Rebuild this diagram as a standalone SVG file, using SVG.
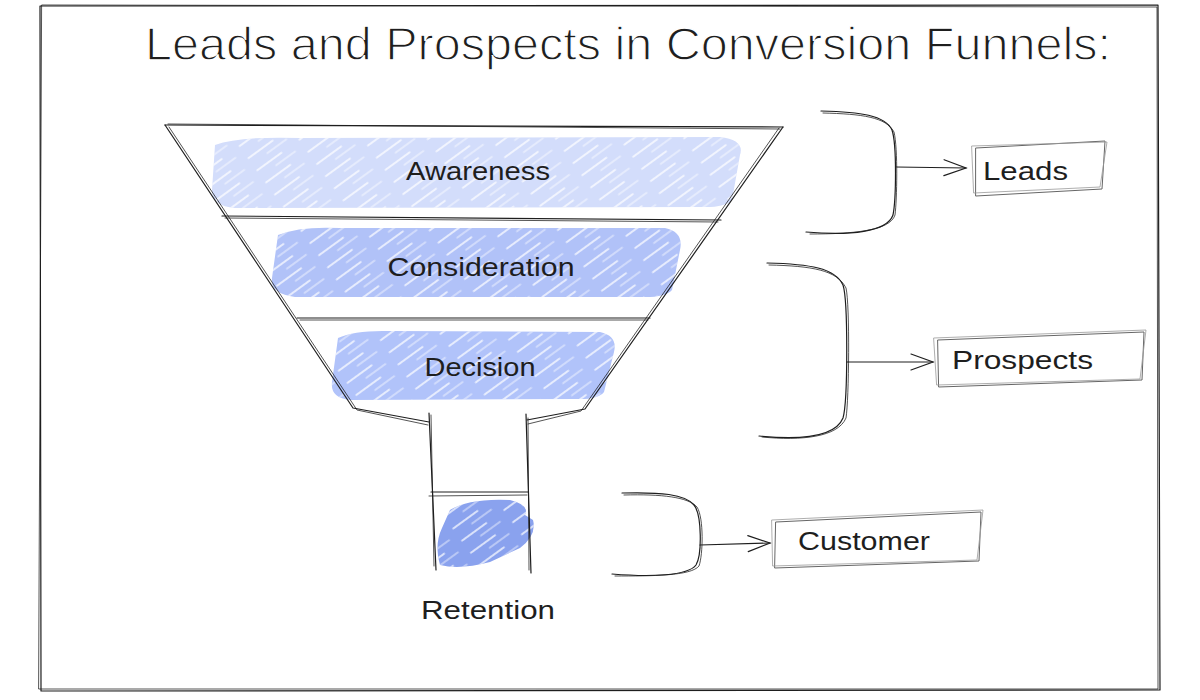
<svg xmlns="http://www.w3.org/2000/svg" width="1200" height="700" viewBox="0 0 1200 700">
  <defs>
    <style>
      .ink{fill:none;stroke:#1e1e1e;stroke-width:1.2;stroke-linecap:round;stroke-linejoin:round}
      .ink2{fill:none;stroke:#1e1e1e;stroke-width:0.9;stroke-linecap:round;stroke-linejoin:round;opacity:0.85}
      .box{fill:none;stroke:#666;stroke-width:1;stroke-linecap:round}
      .box2{fill:none;stroke:#999;stroke-width:0.8;stroke-linecap:round}
      .lbl{font-family:"Liberation Sans","DejaVu Sans",sans-serif;fill:#1e1e1e;font-size:26px}
      .title{font-family:"Liberation Sans","DejaVu Sans",sans-serif;fill:#1e1e1e;font-size:46px;font-weight:normal;stroke:#ffffff;stroke-width:1.3;paint-order:fill}
      .streak{fill:url(#streaks)}
    </style>
    <pattern id="streaks" patternUnits="userSpaceOnUse" width="52" height="15" patternTransform="rotate(-36)">
      <line x1="4" y1="4" x2="34" y2="4" stroke="#fff" stroke-width="1.6" stroke-linecap="round" opacity="0.9"/>
      <line x1="22" y1="11" x2="46" y2="11" stroke="#fff" stroke-width="1.2" stroke-linecap="round" opacity="0.8"/>
    </pattern>
    <marker id="arrow" markerUnits="userSpaceOnUse" markerWidth="26" markerHeight="20" refX="23" refY="9" orient="auto">
      <path d="M1 1 L23 9 L1 17" fill="none" stroke="#1e1e1e" stroke-width="1.2" stroke-linecap="round"/>
    </marker>
  </defs>

  <rect width="1200" height="700" fill="#ffffff"/>

  <g id="frame">
    <path class="ink" d="M40 6 L1158 5 L1160 690 L41 691 Z"/>
    <path class="ink2" d="M42 5 L1157 7 L1158 689 L39 689 Z"/>
  </g>

  <g id="title">
    <text class="title" x="145" y="60" textLength="966" lengthAdjust="spacingAndGlyphs">Leads and Prospects in Conversion Funnels:</text>
  </g>

  <g id="funnel">
    <g id="stage-awareness">
      <path d="M215 145 Q240 136 300 138 L720 137 Q745 140 740 155 L732 200 Q725 208 700 207 L235 208 Q212 206 212 190 Z" fill="#d3ddfb"/>
      <path class="streak" d="M215 145 Q240 136 300 138 L720 137 Q745 140 740 155 L732 200 Q725 208 700 207 L235 208 Q212 206 212 190 Z"/>
      <text class="lbl" x="478" y="180" text-anchor="middle" textLength="144" lengthAdjust="spacingAndGlyphs">Awareness</text>
    </g>
    <g id="stage-consideration">
      <path d="M278 235 Q300 226 340 228 L665 228 Q684 232 680 250 L672 290 Q665 298 640 297 L295 297 Q270 294 272 278 Z" fill="#b1c2f8"/>
      <path class="streak" d="M278 235 Q300 226 340 228 L665 228 Q684 232 680 250 L672 290 Q665 298 640 297 L295 297 Q270 294 272 278 Z"/>
      <text class="lbl" x="481" y="276" text-anchor="middle" textLength="187" lengthAdjust="spacingAndGlyphs">Consideration</text>
    </g>
    <g id="stage-decision">
      <path d="M338 338 Q355 330 390 331 L600 332 Q618 336 614 352 L604 392 Q598 400 575 399 L350 400 Q330 398 332 382 Z" fill="#b1c3fa"/>
      <path class="streak" d="M338 338 Q355 330 390 331 L600 332 Q618 336 614 352 L604 392 Q598 400 575 399 L350 400 Q330 398 332 382 Z"/>
      <text class="lbl" x="480" y="376" text-anchor="middle" textLength="111" lengthAdjust="spacingAndGlyphs">Decision</text>
    </g>
    <g id="stage-retention">
      <path d="M450 510 Q470 498 510 500 Q530 505 525 515 L533 520 Q537 535 520 548 L490 562 Q460 570 440 565 Q434 545 442 528 Z" fill="#8aa2ee"/>
      <path class="streak" d="M450 510 Q470 498 510 500 Q530 505 525 515 L533 520 Q537 535 520 548 L490 562 Q460 570 440 565 Q434 545 442 528 Z"/>
      <text class="lbl" x="488" y="619" text-anchor="middle" textLength="134" lengthAdjust="spacingAndGlyphs">Retention</text>
    </g>
    <g id="funnel-outline">
      <path class="ink" d="M165 125 L783 127"/>
      <path class="ink2" d="M168 124 L780 129"/>
      <path class="ink" d="M165 125 L353 408 L429 422"/>
      <path class="ink2" d="M169 127 L357 410 L428 425"/>
      <path class="ink" d="M783 127 L585 409 L527 420"/>
      <path class="ink2" d="M779 128 L581 411 L528 424"/>
      <path class="ink" d="M222 216 L721 220"/>
      <path class="ink2" d="M225 218 L718 222"/>
      <path class="ink" d="M297 318 L650 318"/>
      <path class="ink2" d="M300 320 L648 320"/>
      <path class="ink" d="M429 413 L436 570"/>
      <path class="ink2" d="M431 415 L434 566"/>
      <path class="ink" d="M526 414 L531 573"/>
      <path class="ink2" d="M528 418 L529 570"/>
      <path class="ink" d="M431 492 L528 492"/>
      <path class="ink2" d="M429 496 L527 495"/>
    </g>
  </g>

  <g id="bracket-leads">
    <path class="ink" d="M821 111 C860 112 885 115 892 130 C897 145 896 200 893 215 C887 232 850 236 806 232"/>
    <path class="ink2" d="M823 113 C862 114 886 117 894 132 C898 148 897 200 895 215 C890 231 852 234 810 234"/>
  </g>
  <g id="bracket-prospects">
    <path class="ink" d="M767 263 C810 264 835 268 843 285 C848 300 848 400 843 418 C835 438 800 440 759 436"/>
    <path class="ink2" d="M769 265 C812 266 837 270 846 288 C850 305 849 400 846 418 C838 437 802 441 762 437"/>
  </g>
  <g id="bracket-customer">
    <path class="ink" d="M622 493 C660 492 685 494 694 505 C702 515 702 555 696 565 C688 576 650 577 612 574"/>
    <path class="ink2" d="M624 495 C662 494 688 497 697 507 C704 518 703 555 699 566 C691 576 652 576 615 576"/>
  </g>

  <g id="connectors">
    <path class="ink" d="M896 167 L966 168" marker-end="url(#arrow)"/>
    <path class="ink" d="M847 362 L933 362" marker-end="url(#arrow)"/>
    <path class="ink" d="M700 545 L770 543" marker-end="url(#arrow)"/>
  </g>

  <g id="node-leads">
    <path class="box" d="M976 148 L1105 141 L1102 189 L976 196 Z"/>
    <path class="box2" d="M972 146 L1107 142 L1100 187 L974 193 Z"/>
    <text class="lbl" x="983" y="180" textLength="85" lengthAdjust="spacingAndGlyphs">Leads</text>
  </g>
  <g id="node-prospects">
    <path class="box" d="M938 340 L1144 332 L1142 380 L939 387 Z"/>
    <path class="box2" d="M934 338 L1146 330 L1140 379 L937 385 Z"/>
    <text class="lbl" x="952" y="369" textLength="141" lengthAdjust="spacingAndGlyphs">Prospects</text>
  </g>
  <g id="node-customer">
    <path class="box" d="M776 522 L981 512 L979 561 L775 568 Z"/>
    <path class="box2" d="M772 520 L983 510 L977 560 L773 566 Z"/>
    <text class="lbl" x="798" y="550" textLength="132" lengthAdjust="spacingAndGlyphs">Customer</text>
  </g>
</svg>
